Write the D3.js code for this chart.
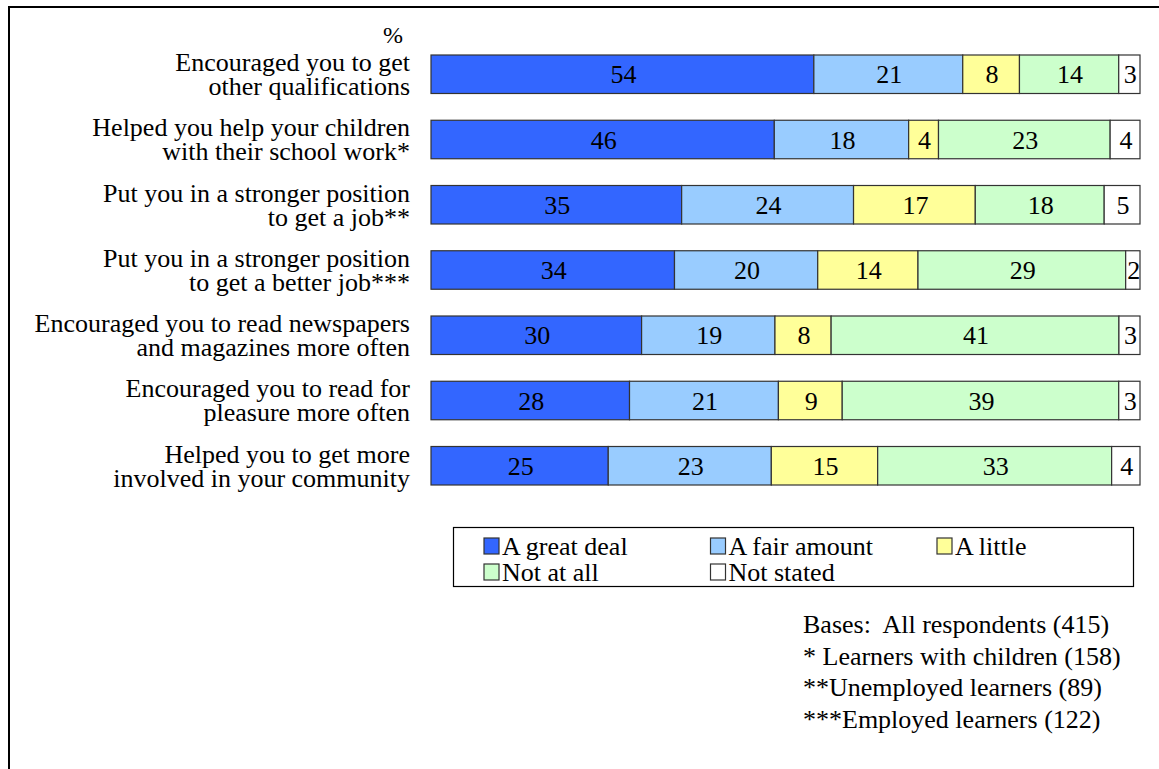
<!DOCTYPE html>
<html>
<head>
<meta charset="utf-8">
<script src="https://cdn.jsdelivr.net/npm/d3@7"></script>
</head>
<body style="margin:0">
<svg id="chart" width="1159" height="769"></svg>
<script>
// categories, top to bottom (line break marked with \n)
const categories = [
    "Encouraged you to get\nother qualifications",
    "Helped you help your children\nwith their school work*",
    "Put you in a stronger position\nto get a job**",
    "Put you in a stronger position\nto get a better job***",
    "Encouraged you to read newspapers\nand magazines more often",
    "Encouraged you to read for\npleasure more often",
    "Helped you to get more\ninvolved in your community"
];
const seriesNames = ["A great deal", "A fair amount", "A little", "Not at all", "Not stated"];
const greatDeal = [54, 46, 35, 34, 30, 28, 25];
const fairAmount = [21, 18, 24, 20, 19, 21, 23];
const aLittle = [8, 4, 17, 14, 8, 9, 15];
const notAtAll = [14, 23, 18, 29, 41, 39, 33];
const notStated = [3, 4, 5, 2, 3, 3, 4];
const seriesColors = ["#3366ff", "#99ccff", "#ffff99", "#ccffcc", "#ffffff"];
const basesNotes = [
    "Bases:  All respondents (415)",
    "* Learners with children (158)",
    "**Unemployed learners (89)",
    "***Employed learners (122)"
];

const seriesValues = [greatDeal, fairAmount, aLittle, notAtAll, notStated];
const rows = categories.map((c, i) => {
    let r = { cat: c };
    seriesNames.forEach((s, k) => r[s] = seriesValues[k][i]);
    return r;
});

const svg = d3.select("#chart");

// serif text helper, same as Times in the original
function serif(sel, size) {
    return sel.attr("font-size", size)
        .attr("font-family", "Liberation Serif")
        .style("font-family", "\"Liberation Serif\"");
}

// outer frame
svg.append("rect")
    .attr("x", 9).attr("y", 7)
    .attr("width", 1200).attr("height", 800)
    .attr("fill", "none")
    .attr("stroke", "#000")
    .attr("stroke-width", 2);

const x = d3.scaleLinear().domain([0, 1]).range([431, 1140]);
const y = d3.scaleBand().domain(categories).range([55, 485]).paddingInner(0.41).paddingOuter(0);

// bars are drawn as share of row total
const stack = d3.stack().keys(seriesNames).offset(d3.stackOffsetExpand);
const stacked = stack(rows);

const layers = svg.append("g")
    .selectAll("g")
    .data(stacked)
    .join("g")
    .attr("fill", (d, i) => seriesColors[i]);

layers.selectAll("rect")
    .data(d => d.map(p => ({ p: p, key: d.key })))
    .join("rect")
    .attr("x", d => x(d.p[0]))
    .attr("y", d => y(d.p.data.cat))
    .attr("width", d => x(d.p[1]) - x(d.p[0]))
    .attr("height", y.bandwidth())
    .attr("stroke", "#333")
    .attr("stroke-width", 1.2);

const valueText = layers.selectAll("text")
    .data(d => d.map(p => ({ p: p, key: d.key })))
    .join("text")
    .attr("x", d => (x(d.p[0]) + x(d.p[1])) / 2 + 1)
    .attr("y", d => y(d.p.data.cat) + y.bandwidth() / 2)
    .attr("dy", "0.35em")
    .attr("text-anchor", "middle")
    .attr("fill", "#000")
    .text(d => d.p.data[d.key]);
serif(valueText, 26);

// category labels
const labels = svg.append("g")
    .selectAll("text")
    .data(categories)
    .join("text")
    .attr("x", 410)
    .attr("y", d => y(d) + y.bandwidth() / 2)
    .attr("text-anchor", "end");
serif(labels, 26);

labels.selectAll("tspan")
    .data(d => d.split("\n"))
    .join("tspan")
    .attr("x", 410)
    .attr("dy", (d, i) => i == 0 ? "-0.12em" : "0.92em")
    .text(d => d);

serif(svg.append("text")
    .attr("x", 403).attr("y", 43)
    .attr("text-anchor", "end")
    .text("%"), 24);

// legend
const legend = svg.append("g");
legend.append("rect")
    .attr("x", 453.5).attr("y", 527.5)
    .attr("width", 680).attr("height", 59)
    .attr("fill", "#fff")
    .attr("stroke", "#000")
    .attr("stroke-width", 1.2);

const legendItems = legend.selectAll("g")
    .data(seriesNames)
    .join("g")
    .attr("transform", (d, i) => `translate(${484 + (i % 3) * 226.5},${546 + Math.floor(i / 3) * 26})`);

legendItems.append("rect")
    .attr("x", 0).attr("y", -8)
    .attr("width", 15).attr("height", 16)
    .attr("fill", (d, i) => seriesColors[i])
    .attr("stroke", "#333")
    .attr("stroke-width", 1.2);

serif(legendItems.append("text")
    .attr("x", 18)
    .attr("dy", "0.36em")
    .text(d => d), 26);

// bases
const bases = svg.append("g")
    .selectAll("text")
    .data(basesNotes)
    .join("text")
    .attr("x", 803)
    .attr("y", (d, i) => 633 + i * 31.7)
    .attr("xml:space", "preserve")
    .style("white-space", "pre")
    .text(d => d);
serif(bases, 26);

// force layout so the fonts are resolved
svg.selectAll("text").each(function () { this.getComputedTextLength(); });
</script>
</body>
</html>
